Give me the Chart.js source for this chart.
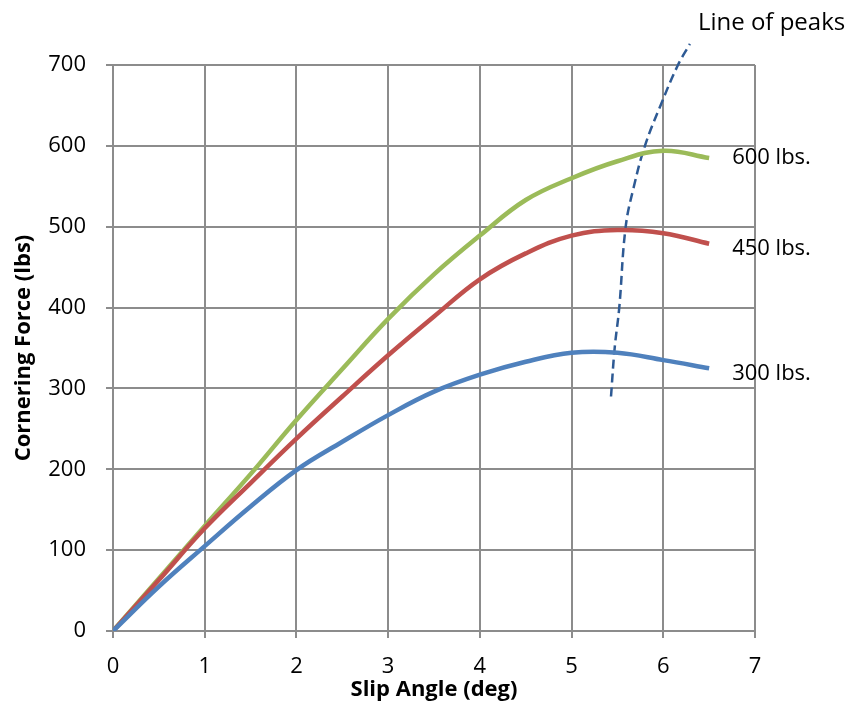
<!DOCTYPE html>
<html>
<head>
<meta charset="utf-8">
<script src="https://cdn.jsdelivr.net/npm/chart.js@4/dist/chart.umd.min.js"></script>
<style>
  html, body { margin: 0; padding: 0; background: #ffffff; }
  #wrap { width: 855px; height: 705px; }
</style>
</head>
<body>
<div id="wrap"><canvas id="c" width="855" height="705"></canvas></div>
<script>
// ---- Data ----
const slipAngles = [0, 0.5, 1, 1.5, 2, 2.5, 3, 3.5, 4, 4.5, 5, 5.5, 6, 6.5];
const force300 = [0, 55, 105, 154, 199, 234, 267, 296, 317, 333, 344, 344, 335, 325];
const force450 = [0, 63, 127, 183, 238, 290, 341, 389, 435, 467, 489, 496, 492, 479];
const force600 = [0, 65, 130, 194, 261, 324, 386, 441, 489, 533, 560, 581, 594, 585];
const peakLineX = [5.43, 5.47, 5.52, 5.59, 5.68, 5.8, 5.97, 6.16, 6.29];
const peakLineY = [290, 350, 400, 500, 550, 600, 650, 700, 726];
const seriesNames = ['300 lbs.', '450 lbs.', '600 lbs.'];
const peakLabel = 'Line of peaks';
const xTicks = [0, 1, 2, 3, 4, 5, 6, 7];
const yTicks = [0, 100, 200, 300, 400, 500, 600, 700];

const FONT = "'Open Sans', 'Liberation Sans', sans-serif";
const toPts = (xs, ys) => xs.map((x, i) => ({ x: x, y: ys[i] }));

const labelPlugin = {
  id: 'seriesLabels',
  afterDatasetsDraw(chart) {
    const ctx = chart.ctx;
    const xs = chart.scales.x, ys = chart.scales.y;
    ctx.save();
    ctx.fillStyle = '#000000';
    ctx.textBaseline = 'middle';
    ctx.textAlign = 'left';
    ctx.font = "22px " + FONT;
    const offs = [6, 5, 0];
    [force300, force450, force600].forEach((arr, i) => {
      const last = arr.length - 1;
      const px = xs.getPixelForValue(slipAngles[last]) + 23;
      const py = ys.getPixelForValue(arr[last]) + offs[i];
      ctx.fillText(seriesNames[i], px, py);
    });
    ctx.font = "24px " + FONT;
    const lx = xs.getPixelForValue(peakLineX[peakLineX.length - 1]) + 8;
    const ly = ys.getPixelForValue(peakLineY[peakLineY.length - 1]) - 21;
    ctx.fillText(peakLabel, lx, ly);
    ctx.restore();
  }
};

new Chart(document.getElementById('c'), {
  type: 'line',
  data: {
    datasets: [
      { label: seriesNames[0], data: toPts(slipAngles, force300), borderColor: '#4F81BD', borderWidth: 4.5, pointRadius: 0, tension: 0.4, fill: false },
      { label: seriesNames[1], data: toPts(slipAngles, force450), borderColor: '#C0504D', borderWidth: 4.5, pointRadius: 0, tension: 0.4, fill: false },
      { label: seriesNames[2], data: toPts(slipAngles, force600), borderColor: '#9BBB59', borderWidth: 4.5, pointRadius: 0, tension: 0.4, fill: false },
      { label: peakLabel, data: toPts(peakLineX, peakLineY), borderColor: '#2E5A94', borderWidth: 2.5, borderDash: [9, 5], pointRadius: 0, tension: 0.4, fill: false, clip: false }
    ]
  },
  options: {
    responsive: false,
    animation: false,
    layout: { padding: { top: 65, right: 100, left: 10, bottom: 0 } },
    plugins: { legend: { display: false }, tooltip: { enabled: false } },
    scales: {
      x: {
        type: 'linear', min: 0, max: 7,
        afterBuildTicks: s => { s.ticks = xTicks.map(v => ({ value: v })); },
        afterFit: s => { s.height = 74; },
        grid: { color: '#8C8C8C', lineWidth: 2, tickLength: 7, drawTicks: true },
        border: { color: '#8C8C8C', width: 2 },
        ticks: { color: '#000000', font: { family: FONT, size: 22 }, padding: 16, maxRotation: 0 },
        title: { display: true, text: 'Slip Angle (deg)', color: '#000000', font: { family: FONT, size: 22, weight: 'bold' }, padding: { top: 0, bottom: 2 } }
      },
      y: {
        type: 'linear', min: 0, max: 700,
        afterBuildTicks: s => { s.ticks = yTicks.map(v => ({ value: v })); },
        afterFit: s => { s.width = 103; },
        grid: { color: '#8C8C8C', lineWidth: 2, tickLength: 7, drawTicks: true },
        border: { color: '#8C8C8C', width: 2 },
        ticks: { color: '#000000', font: { family: FONT, size: 22 }, padding: 20 },
        title: { display: true, text: 'Cornering Force (lbs)', color: '#000000', font: { family: FONT, size: 22, weight: 'bold' }, padding: { top: 1, bottom: 0 } }
      }
    }
  },
  plugins: [labelPlugin]
});
</script>
</body>
</html>
